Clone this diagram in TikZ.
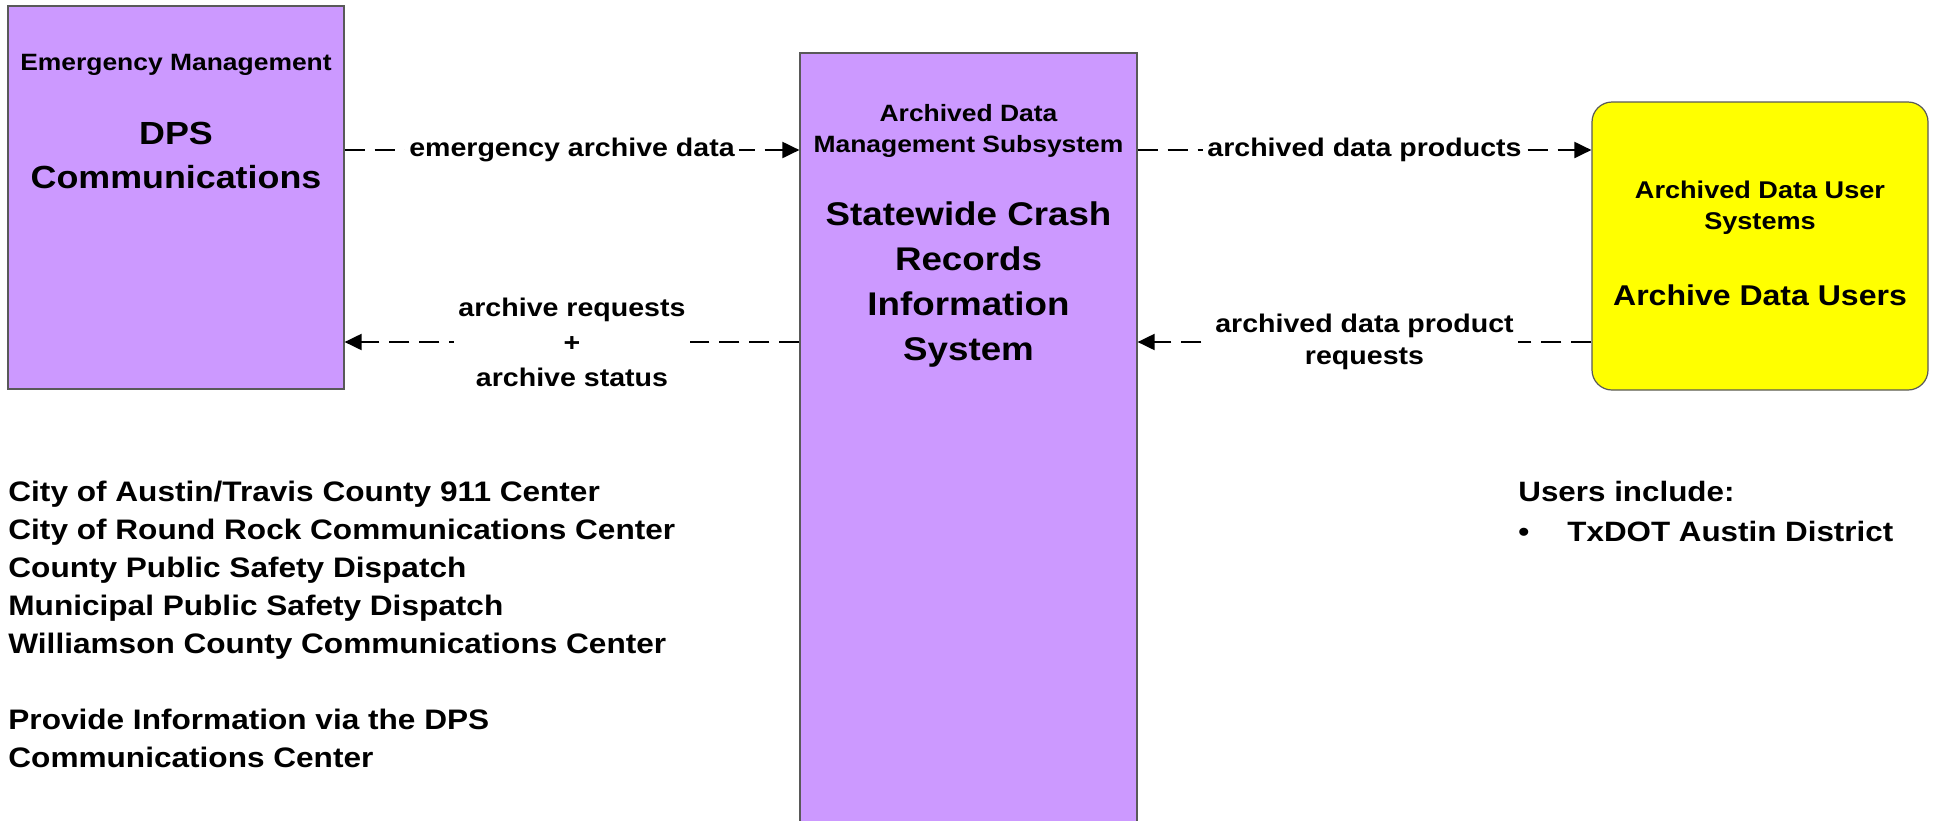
\documentclass[tikz,border=0pt]{standalone}
\usepackage{fontspec}
\setmainfont{Liberation Sans}[FakeStretch=1.12]
\usetikzlibrary{arrows.meta}

\definecolor{boxlilac}{HTML}{CC99FF}
\definecolor{boxyellow}{HTML}{FFFF00}

\begin{document}
\begin{tikzpicture}[
        x=0.5pt, y=-0.5pt, % pixel grid
        sys/.style={draw=black!65, line width=0.6pt, fill=boxlilac, inner sep=0pt},
        term/.style={sys, fill=boxyellow, rounded corners=10pt},
        kind/.style={align=center, inner sep=0pt, anchor=north, font=\bfseries\fontsize{11.8}{15.5}\selectfont},
        title/.style={align=center, inner sep=0pt, anchor=north, font=\bfseries\fontsize{16}{22}\selectfont},
        flow/.style={draw, line width=1pt, dash pattern=on 10pt off 5pt, -{Triangle[length=8.5pt, width=8pt]}},
        lbl/.style={fill=white, align=center, inner xsep=2pt, inner ysep=1pt, font=\bfseries\fontsize{12.75}{16}\selectfont},
        note/.style={align=left, inner sep=0pt, anchor=north west, font=\bfseries\fontsize{14.1}{19}\selectfont},
    ]
    \useasboundingbox (0,0) rectangle (1937,820);

    % boxes
    \node[sys, minimum width=168pt, minimum height=191.5pt] (dps) at (176,197.5) {};
    \node[sys, minimum width=168.5pt, minimum height=400pt] (crash) at (968.5,453) {};
    \node[term, minimum width=168pt, minimum height=144pt] (users) at (1760,246) {};

    % box texts
    \node[kind] (dps-kind) at (176,54) {Emergency Management};
    \node[title] (dps-name) at (176,122) {DPS\\Communications};
    \node[kind] (crash-kind) at (968.5,104) {Archived Data\\Management Subsystem};
    \node[title, font=\bfseries\fontsize{16.4}{22.5}\selectfont] (crash-name) at (968.5,201) {Statewide Crash\\Records\\Information\\System};
    \node[kind, font=\bfseries\fontsize{12.1}{15.5}\selectfont] (users-kind) at (1760,181) {Archived Data User\\Systems};
    \node[title, font=\bfseries\fontsize{14.3}{18}\selectfont] (users-name) at (1760,284) {Archive Data Users};

    % flows
    \coordinate (upper) at (0,150);
    \coordinate (lower) at (0,342);
    \draw[flow] (dps.east |- upper) -- (crash.west |- upper) node[lbl, midway] {emergency archive data};
    \draw[flow] (crash.west |- lower) -- (dps.east |- lower) node[lbl, midway, font=\bfseries\fontsize{12.75}{17.5}\selectfont] {archive requests\\+\\archive status};
    \draw[flow] (crash.east |- upper) -- (users.west |- upper) node[lbl, midway] {archived data products};
    \draw[flow] (users.west |- lower) -- (crash.east |- lower) node[lbl, midway] {archived data product\\requests};

    % notes
    \node[note] (centers) at (8,481) {City of Austin/Travis County 911 Center\\City of Round Rock Communications Center\\County Public Safety Dispatch\\Municipal Public Safety Dispatch\\Williamson County Communications Center\\[19pt]Provide Information via the DPS\\Communications Center};
    \node[note, font=\bfseries\fontsize{14}{20}\selectfont] (user-list) at (1518,481) {Users include:\\\makebox[24.5pt][l]{•}TxDOT Austin District};
\end{tikzpicture}
\end{document}
